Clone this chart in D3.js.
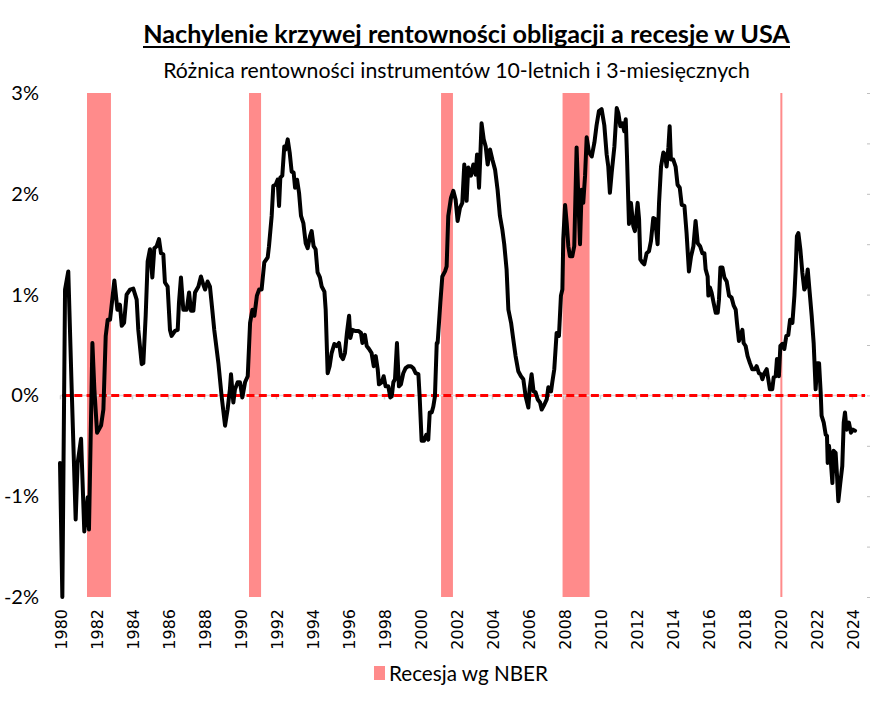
<!DOCTYPE html>
<html><head><meta charset="utf-8">
<script src="https://cdn.jsdelivr.net/npm/d3@7"></script>
<style>body{margin:0;background:#fff}</style>
</head><body>
<svg id="c" width="886" height="709"></svg>
<script>
const dates = [1980.0,1980.13,1980.28,1980.46,1980.65,1980.87,1980.98,1981.17,1981.35,1981.54,1981.61,1981.8,1981.91,1982.06,1982.28,1982.41,1982.54,1982.65,1982.78,1983.02,1983.19,1983.33,1983.43,1983.56,1983.7,1983.89,1984.07,1984.26,1984.35,1984.54,1984.63,1984.76,1984.87,1985.0,1985.13,1985.24,1985.37,1985.5,1985.61,1985.74,1985.83,1985.98,1986.11,1986.2,1986.39,1986.54,1986.61,1986.72,1986.85,1987.04,1987.17,1987.28,1987.41,1987.5,1987.69,1987.83,1987.96,1988.06,1988.2,1988.33,1988.46,1988.57,1988.8,1988.98,1989.17,1989.31,1989.44,1989.5,1989.63,1989.72,1989.87,1990.0,1990.13,1990.28,1990.43,1990.56,1990.69,1990.8,1990.94,1991.06,
1991.2,1991.35,1991.54,1991.61,1991.76,1991.85,1991.98,1992.09,1992.17,1992.24,1992.35,1992.46,1992.54,1992.65,1992.76,1992.87,1992.98,1993.06,1993.17,1993.28,1993.39,1993.52,1993.65,1993.76,1993.89,1993.98,1994.09,1994.2,1994.31,1994.44,1994.54,1994.69,1994.76,1994.87,1994.98,1995.09,1995.24,1995.37,1995.5,1995.61,1995.72,1995.83,1995.94,1996.06,1996.13,1996.24,1996.39,1996.57,1996.72,1996.8,1996.94,1997.04,1997.17,1997.31,1997.43,1997.54,1997.65,1997.72,1997.87,1997.98,1998.09,1998.24,1998.35,1998.43,1998.52,1998.61,1998.72,1998.83,1998.94,1999.07,1999.2,1999.35,1999.5,1999.63,1999.76,1999.91,1999.98,2000.09,2000.22,2000.35,2000.46,2000.54,2000.65,2000.74,2000.83,2000.93,2000.98,2001.13,2001.24,2001.39,2001.48,2001.57,2001.72,2001.85,2001.98,
2002.09,2002.22,2002.35,2002.46,2002.59,2002.68,2002.83,2002.96,2003.09,2003.17,2003.28,2003.35,2003.42,2003.54,2003.65,2003.76,2003.89,2004.02,2004.17,2004.31,2004.44,2004.57,2004.68,2004.81,2004.91,2005.06,2005.18,2005.31,2005.46,2005.61,2005.74,2005.87,2006.02,2006.09,2006.2,2006.31,2006.42,2006.54,2006.67,2006.76,2006.91,2007.04,2007.13,2007.28,2007.35,2007.46,2007.59,2007.72,2007.83,2007.91,2007.96,2008.06,2008.15,2008.24,2008.33,2008.46,2008.57,2008.7,2008.8,2008.89,2008.98,2009.07,2009.17,2009.26,2009.39,2009.54,2009.69,2009.81,2009.94,2010.09,2010.24,2010.37,2010.46,2010.55,2010.65,2010.8,2010.93,2011.02,2011.13,2011.24,2011.35,2011.43,2011.5,2011.57,2011.61,2011.72,2011.85,2011.94,2012.09,2012.17,2012.24,2012.35,2012.46,2012.59,2012.72,2012.83,2012.96,
2013.06,2013.2,2013.28,2013.39,2013.52,2013.61,2013.7,2013.8,2013.87,2013.94,2014.07,2014.2,2014.31,2014.43,2014.54,2014.69,2014.81,2014.94,2015.06,2015.19,2015.31,2015.43,2015.56,2015.69,2015.8,2015.87,2015.98,2016.02,2016.11,2016.2,2016.31,2016.43,2016.54,2016.61,2016.69,2016.8,2016.91,2017.04,2017.17,2017.31,2017.43,2017.54,2017.61,2017.72,2017.83,2017.91,2017.98,2018.09,2018.2,2018.33,2018.46,2018.61,2018.7,2018.83,2018.94,2019.02,2019.13,2019.26,2019.35,2019.44,2019.57,2019.65,2019.76,2019.83,2019.94,2020.02,2020.13,2020.24,2020.35,2020.46,2020.56,2020.69,2020.8,2020.87,2020.94,2021.02,2021.13,2021.24,2021.35,2021.43,2021.54,2021.65,2021.76,2021.87,2021.98,2022.07,2022.17,2022.26,2022.31,2022.43,2022.54,2022.61,2022.65,2022.72,2022.83,2022.91,2022.98,2023.09,2023.17,2023.24,2023.35,2023.46,2023.54,2023.61,2023.7,2023.83,2023.94,2024.06,2024.17];
const spread = [-0.67,-2.0,1.05,1.23,0.06,-1.23,-0.67,-0.43,-1.35,-1.01,-1.33,0.52,0.06,-0.37,-0.30,-0.14,0.59,0.75,0.75,1.14,0.85,0.90,0.69,0.72,1.00,1.05,1.06,0.95,0.65,0.31,0.32,0.79,1.33,1.45,1.17,1.46,1.48,1.55,1.41,1.40,1.12,1.08,0.65,0.59,0.64,0.65,0.92,1.17,0.85,0.85,1.02,0.84,0.84,1.02,1.08,1.18,1.10,1.05,1.13,1.08,0.85,0.65,0.32,-0.01,-0.30,-0.14,0.06,0.21,-0.07,0.06,0.13,0.13,-0.02,0.13,0.19,0.72,0.85,0.79,0.99,1.05,
1.05,1.32,1.37,1.48,1.78,2.08,2.09,2.14,1.88,2.16,2.18,2.47,2.44,2.54,2.41,2.22,2.21,2.06,2.14,2.01,1.78,1.71,1.51,1.46,1.58,1.63,1.48,1.45,1.22,1.17,1.08,1.03,0.85,0.22,0.29,0.42,0.51,0.49,0.52,0.39,0.36,0.42,0.62,0.79,0.57,0.65,0.64,0.64,0.62,0.52,0.60,0.49,0.46,0.42,0.29,0.39,0.26,0.11,0.13,0.19,0.09,0.09,-0.02,-0.01,0.13,0.16,0.52,0.09,0.11,0.22,0.27,0.29,0.29,0.27,0.22,0.21,-0.01,-0.45,-0.45,-0.39,-0.44,-0.17,-0.17,-0.11,-0.01,0.52,0.52,0.92,1.18,1.23,1.28,1.78,1.96,2.03,1.94,
1.73,1.86,1.91,2.29,1.93,2.26,2.18,2.29,2.19,2.39,2.06,2.37,2.70,2.54,2.47,2.29,2.44,2.34,2.24,2.04,1.78,1.65,1.50,1.25,0.85,0.72,0.56,0.39,0.24,0.19,0.16,-0.01,-0.12,0.06,0.21,0.04,0.03,-0.04,-0.07,-0.14,-0.09,-0.04,0.08,0.04,0.13,0.26,0.62,0.59,0.99,1.05,1.55,1.89,1.71,1.48,1.38,1.38,1.48,2.46,1.94,1.50,2.04,1.91,2.18,2.56,2.41,2.37,2.51,2.68,2.82,2.84,2.68,2.39,2.27,2.01,2.21,2.47,2.85,2.80,2.67,2.70,2.62,2.74,2.37,1.94,1.70,1.91,1.68,1.63,1.91,1.75,1.35,1.32,1.30,1.41,1.43,1.53,1.76,
1.75,1.50,1.91,2.27,2.41,2.39,2.27,2.46,2.67,2.34,2.34,2.27,2.09,2.06,1.89,1.88,1.61,1.23,1.38,1.48,1.73,1.51,1.48,1.41,1.41,1.25,1.18,0.99,1.07,1.02,0.92,0.82,0.82,0.95,1.27,1.27,1.17,1.13,0.99,0.97,0.89,0.85,0.72,0.54,0.61,0.65,0.52,0.49,0.39,0.32,0.26,0.26,0.29,0.22,0.21,0.16,0.22,0.26,0.16,0.06,0.06,0.18,0.19,0.36,0.19,0.49,0.51,0.46,0.59,0.60,0.75,0.72,0.99,1.25,1.58,1.61,1.45,1.22,1.05,1.08,1.25,1.02,0.79,0.52,0.06,0.32,0.32,0.03,-0.20,-0.27,-0.39,-0.40,-0.67,-0.50,-0.67,-0.87,-0.55,-0.57,-0.80,-1.05,-0.87,-0.70,-0.27,-0.17,-0.34,-0.27,-0.37,-0.34,-0.35];
const recStart = [1981.5, 1990.5, 2001.17, 2007.92, 2020.02];
const recEnd   = [1982.83, 1991.17, 2001.83, 2009.42, 2020.12];
const yTicks = [3, 2, 1, 0, -1, -2];
const yMinorTicks = [3, 2.5, 2, 1.5, 1, 0.5, 0, -0.5, -1, -1.5, -2];
const xTickYears = [1980,1982,1984,1986,1988,1990,1992,1994,1996,1998,2000,2002,2004,2006,2008,2010,2012,2014,2016,2018,2020,2022,2024];
const titleText = "Nachylenie krzywej rentowności obligacji a recesje w USA";
const subtitleText = "Różnica rentowności instrumentów 10-letnich i 3-miesięcznych";
const legendText = "Recesja wg NBER";

const recColor = "#FF8B8B";
const svg = d3.select("#c");
const x = d3.scaleLinear().domain([1980, 2024]).range([60, 852]);
const y = d3.scaleLinear().domain([-2, 3]).range([597, 93]);

// recession bands
svg.append("g").selectAll("rect").data(recStart.map((s,i)=>({s, e: recEnd[i]})))
  .join("rect")
  .attr("x", d => x(d.s)).attr("width", d => Math.max(2, x(d.e) - x(d.s)))
  .attr("y", y(3)).attr("height", y(-2) - y(3))
  .attr("fill", recColor);

// zero axis (gray) with ticks
const xAxis = d3.axisBottom(x).tickValues(xTickYears).tickSize(4).tickFormat("");
const gx = svg.append("g").attr("transform", `translate(0,${y(0)})`).call(xAxis);
gx.select(".domain").remove();
gx.selectAll(".tick line").attr("stroke", "#D0D0D0").attr("stroke-width", 1.5);
svg.append("line").attr("x1", x(1980)).attr("x2", 866).attr("y1", y(0)).attr("y2", y(0))
  .attr("stroke", "#D9D9D9").attr("stroke-width", 1.5);

// x labels
svg.append("g").selectAll("text").data(xTickYears).join("text")
  .attr("transform", d => `translate(${x(d) + 1.5},609) rotate(-90)`)
  .attr("text-anchor", "end").attr("dominant-baseline", "central")
  .attr("font-family", "DejaVu Sans").attr("font-size", 16).attr("fill", "#000")
  .text(d => d);

// right minor ticks
const yR = d3.axisRight(y).tickValues(yMinorTicks).tickSize(3).tickFormat("");
const gr = svg.append("g").attr("transform", "translate(867,0)").call(yR);
gr.select(".domain").remove();
gr.selectAll(".tick line").attr("stroke", "#BFBFBF");

// left labels
const yL = d3.axisLeft(y).tickValues(yTicks).tickSize(0).tickPadding(0).tickFormat(d => d + "%");
const gl = svg.append("g").attr("transform", "translate(39,0)").call(yL);
gl.select(".domain").remove();
gl.selectAll("text").attr("font-family", "Lato").attr("font-size", 20).attr("fill", "#000");

// red dashed zero line
svg.append("line").attr("x1", 62).attr("x2", 865).attr("y1", y(0)).attr("y2", y(0))
  .attr("stroke", "#FF0000").attr("stroke-width", 3).attr("stroke-dasharray", "8,4.3");

// spread line
const pts = dates.map((t,i)=>({t, v: spread[i]}));
svg.append("path").datum(pts)
  .attr("d", d3.line().x(d => x(d.t)).y(d => y(d.v)))
  .attr("fill", "none").attr("stroke", "#000").attr("stroke-width", 4)
  .attr("stroke-linejoin", "round").attr("stroke-linecap", "round");

function fitText(sel, target) {
  const w = sel.node().getComputedTextLength();
  const fs = parseFloat(sel.attr("font-size"));
  sel.attr("font-size", fs * target / w);
}
// title
const t = svg.append("text").attr("x", 466.5).attr("y", 43).attr("text-anchor", "middle")
  .attr("font-family", "Lato").attr("font-weight", "bold").attr("font-size", 24).attr("fill", "#000")
  .text(titleText);
fitText(t, 647);
svg.append("line").attr("x1", 143).attr("x2", 790).attr("y1", 47).attr("y2", 47)
  .attr("stroke", "#000").attr("stroke-width", 2);
const st = svg.append("text").attr("x", 456.5).attr("y", 78).attr("text-anchor", "middle")
  .attr("font-family", "Lato").attr("font-size", 20).attr("fill", "#000").text(subtitleText);
fitText(st, 587);

// legend
svg.append("rect").attr("x", 374).attr("y", 666).attr("width", 11).attr("height", 14).attr("fill", recColor);
const lt = svg.append("text").attr("x", 389).attr("y", 681).attr("font-family", "Lato")
  .attr("font-size", 20).attr("fill", "#000").text(legendText);
fitText(lt, 159);
</script>
</body></html>
